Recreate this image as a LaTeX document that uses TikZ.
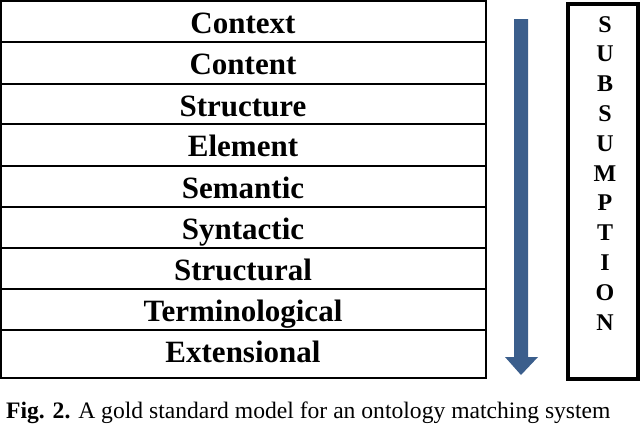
\documentclass[tikz,border=0pt]{standalone}
\usepackage{fontspec}
\setmainfont{Liberation Serif}
\usepackage{tikz}
\usetikzlibrary{calc}
\definecolor{arrowblue}{HTML}{3B5E8C}
\tikzset{
    rowlabel/.style={anchor=base, inner sep=0pt, font=\fontsize{31}{31}\selectfont\bfseries},
    letter/.style={anchor=base, inner sep=0pt, font=\fontsize{24}{24}\selectfont\bfseries},
}

\begin{document}
\begin{tikzpicture}[x=1pt,y=-1pt]
        \useasboundingbox (0,0) rectangle (640,424);
        \draw[line width=1.6pt] (1,1) rectangle (486,378);
        \draw[line width=1.6pt] (1,42) -- (486,42);
        \draw[line width=1.6pt] (1,84) -- (486,84);
        \draw[line width=1.6pt] (1,124) -- (486,124);
        \draw[line width=1.6pt] (1,166) -- (486,166);
        \draw[line width=1.6pt] (1,207) -- (486,207);
        \draw[line width=1.6pt] (1,248) -- (486,248);
        \draw[line width=1.6pt] (1,289) -- (486,289);
        \draw[line width=1.6pt] (1,330) -- (486,330);

        \node[rowlabel] (context) at (243,33.5) {Context};
        \node[rowlabel] (content) at (243,74.5) {Content};
        \node[rowlabel] (structure) at (243,116.5) {Structure};
        \node[rowlabel] (element) at (243,156.5) {Element};
        \node[rowlabel] (semantic) at (243,198.5) {Semantic};
        \node[rowlabel] (syntactic) at (243,239.5) {Syntactic};
        \node[rowlabel] (structural) at (243,280.5) {Structural};
        \node[rowlabel] (terminological) at (243,321.5) {Terminological};
        \node[rowlabel] (extensional) at (243,362.5) {Extensional};

        \fill[arrowblue] (514,19) -- (528,19) -- (528,357) -- (538,357) -- (521,375) -- (505,357) -- (514,357) -- cycle;

        \draw[line width=4pt] (568,3.5) rectangle (637.5,379);
        \foreach \ch [count=\i from 0] in {S,U,B,S,U,M,P,T,I,O,N}
            \node[letter] (sub\i) at (605,32+29.8*\i) {\ch};

        \node[anchor=base west, inner sep=0pt, font=\fontsize{23.6}{23.6}\selectfont] (caption) at (6,418) {\textbf{Fig. 2.} A gold standard model for an ontology matching system};
    \end{tikzpicture}
\end{document}
